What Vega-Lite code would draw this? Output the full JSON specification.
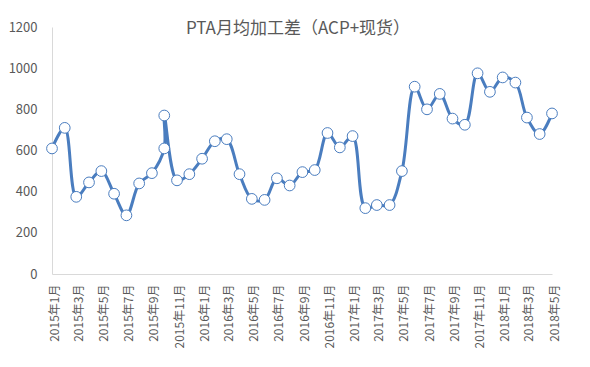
{
  "$schema": "https://vega.github.io/schema/vega-lite/v6.json",
  "width": 500,
  "height": 247,
  "autosize": {"type": "none"},
  "padding": {"left": 52, "top": 27, "right": 38, "bottom": 93},
  "background": "white",
  "title": {
    "text": "PTA月均加工差（ACP+现货）",
    "font": "Noto Sans CJK SC",
    "fontSize": 17,
    "fontWeight": "normal",
    "color": "#595959",
    "anchor": "middle",
    "frame": "group",
    "dx": -4,
    "offset": -17
  },
  "config": {
    "font": "Noto Sans CJK SC",
    "view": {"stroke": null},
    "axis": {
      "grid": false,
      "ticks": false,
      "domainColor": "#d9d9d9",
      "domainWidth": 1,
      "labelColor": "#595959",
      "title": null
    }
  },
  "data": {
    "values": [
      {"i": 1, "date": "2015/01/01", "value": 610},
      {"i": 2, "date": "2015/02/01", "value": 710},
      {"i": 3, "date": "2015/03/01", "value": 375},
      {"i": 4, "date": "2015/04/01", "value": 445},
      {"i": 5, "date": "2015/05/01", "value": 500},
      {"i": 6, "date": "2015/06/01", "value": 390},
      {"i": 7, "date": "2015/07/01", "value": 285},
      {"i": 8, "date": "2015/08/01", "value": 440},
      {"i": 9, "date": "2015/09/01", "value": 490},
      {"i": 10, "date": "2015/10/01", "value": 610},
      {"i": 11, "date": "2015/10/01", "value": 770},
      {"i": 12, "date": "2015/11/01", "value": 455},
      {"i": 13, "date": "2015/12/01", "value": 485},
      {"i": 14, "date": "2016/01/01", "value": 560},
      {"i": 15, "date": "2016/02/01", "value": 645},
      {"i": 16, "date": "2016/03/01", "value": 655},
      {"i": 17, "date": "2016/04/01", "value": 485},
      {"i": 18, "date": "2016/05/01", "value": 365},
      {"i": 19, "date": "2016/06/01", "value": 360},
      {"i": 20, "date": "2016/07/01", "value": 465},
      {"i": 21, "date": "2016/08/01", "value": 430},
      {"i": 22, "date": "2016/09/01", "value": 495},
      {"i": 23, "date": "2016/10/01", "value": 505},
      {"i": 24, "date": "2016/11/01", "value": 685},
      {"i": 25, "date": "2016/12/01", "value": 615},
      {"i": 26, "date": "2017/01/01", "value": 670},
      {"i": 27, "date": "2017/02/01", "value": 320},
      {"i": 28, "date": "2017/03/01", "value": 335},
      {"i": 29, "date": "2017/04/01", "value": 335},
      {"i": 30, "date": "2017/05/01", "value": 500},
      {"i": 31, "date": "2017/06/01", "value": 910},
      {"i": 32, "date": "2017/07/01", "value": 800},
      {"i": 33, "date": "2017/08/01", "value": 875},
      {"i": 34, "date": "2017/09/01", "value": 755},
      {"i": 35, "date": "2017/10/01", "value": 725},
      {"i": 36, "date": "2017/11/01", "value": 975},
      {"i": 37, "date": "2017/12/01", "value": 885},
      {"i": 38, "date": "2018/01/01", "value": 955},
      {"i": 39, "date": "2018/02/01", "value": 930},
      {"i": 40, "date": "2018/03/01", "value": 760},
      {"i": 41, "date": "2018/04/01", "value": 680},
      {"i": 42, "date": "2018/05/01", "value": 780}
    ]
  },
  "encoding": {
    "x": {
      "field": "date",
      "type": "temporal",
      "scale": {
        "domain": [{"year": 2015, "month": 1, "date": 1}, {"year": 2018, "month": 5, "date": 1}],
        "nice": false
      },
      "axis": {
        "format": "%Y年%-m月",
        "tickCount": {"interval": "month", "step": 2},
        "labelAngle": 270,
        "labelFontSize": 12,
        "labelPadding": 10,
        "labelOffset": 2,
        "labelOverlap": false,
        "labelFlush": false
      }
    },
    "y": {
      "field": "value",
      "type": "quantitative",
      "scale": {"domain": [0, 1200], "nice": false},
      "axis": {
        "values": [0, 200, 400, 600, 800, 1000, 1200],
        "format": "d",
        "labelFontSize": 13,
        "labelPadding": 15
      }
    }
  },
  "layer": [
    {
      "mark": {"type": "line", "color": "#4a7dbf", "strokeWidth": 3, "interpolate": "catmull-rom"},
      "encoding": {"order": {"field": "i", "type": "quantitative"}}
    },
    {
      "mark": {"type": "point", "shape": "circle", "filled": true, "fill": "white", "stroke": "#4a7dbf", "strokeWidth": 1, "size": 115, "opacity": 1}
    }
  ]
}
